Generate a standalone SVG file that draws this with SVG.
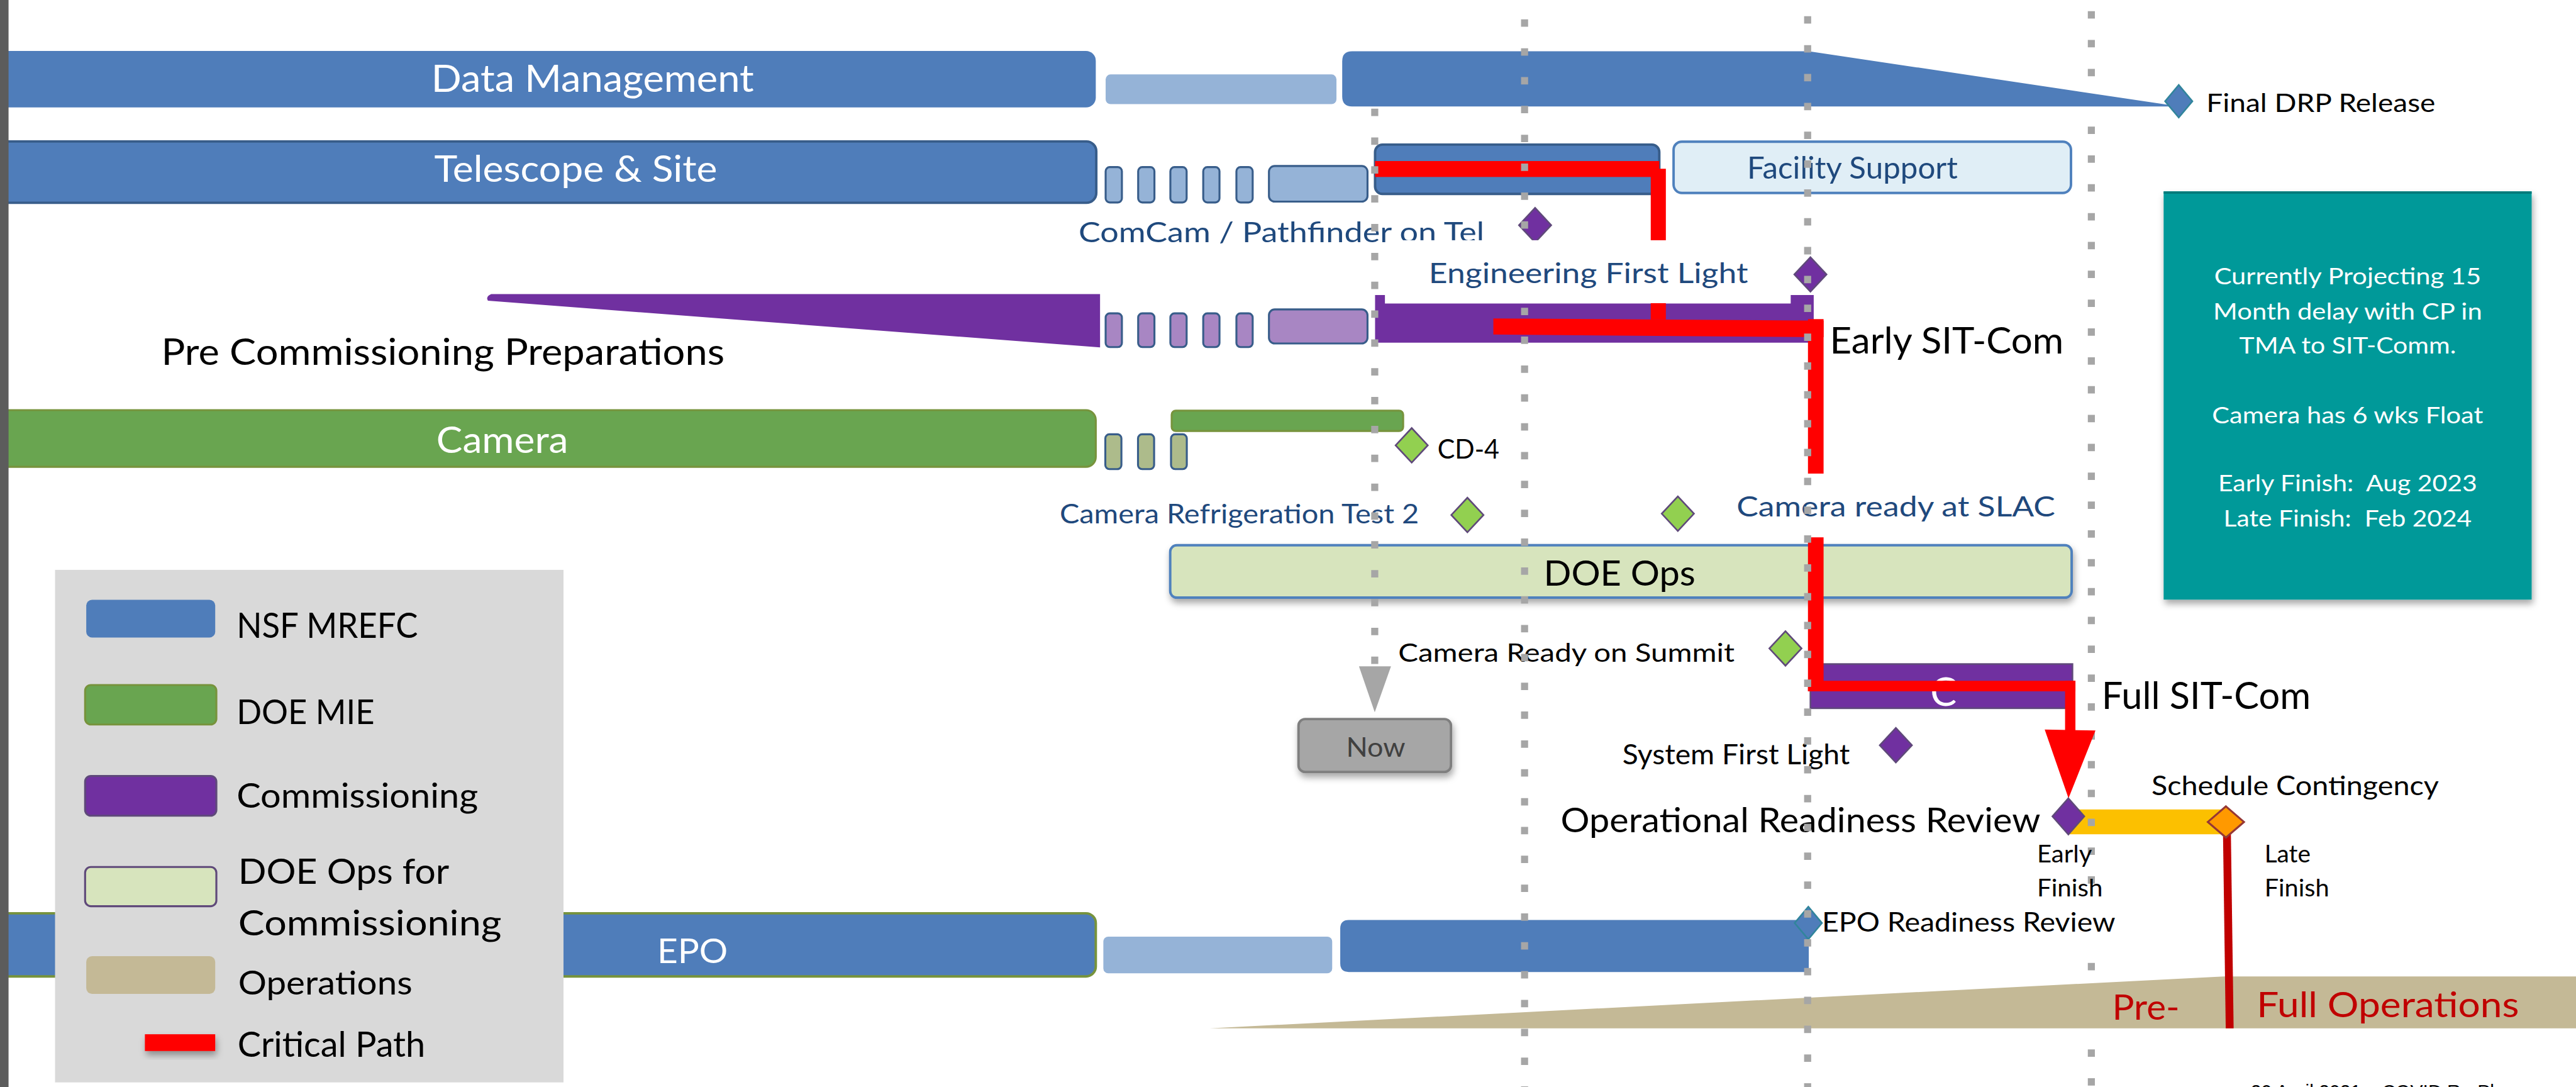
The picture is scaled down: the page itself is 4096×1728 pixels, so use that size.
<svg xmlns="http://www.w3.org/2000/svg" width="4096" height="1728" viewBox="0 0 4096 1728">
<defs>
<style>
  text { font-family: Lato, 'Open Sans', 'Noto Sans', sans-serif; }
  .foot { font-family: 'Liberation Sans', Arial, sans-serif; }
  .w { fill: #ffffff; } .k { fill: #000000; } .db { fill: #1f497d; } .dr { fill: #c00000; } .g4 { fill: #404040; }
  .nsf { fill: #4f7dba; }
  .nsf-lt { fill: #95b3d7; }
  .doe { fill: #69a550; stroke: #77933c; stroke-width: 1.2; }
  .com { fill: #7030a0; }
  .com-lt { fill: #a886c3; }
  .cam-lt { fill: #adbb8b; }
  .tick { stroke: #385d8a; stroke-width: 1.2; }
  .edge { stroke: #385d8a; stroke-width: 1.5; }
  .grid { fill: none; stroke: #a6a6a6; stroke-width: 4.3; stroke-dasharray: 4.5 13.05; }
  .crit { fill: #ff0000; }
  .ms-com { fill: #7030a0; stroke: #5f497a; stroke-width: 1; }
  .ms-doe { fill: #92d050; stroke: #5f497a; stroke-width: 1; }
  .ms-nsf { fill: #4f7dba; stroke: #31859c; stroke-width: 1; }
  .ms-late { fill: #ff9900; stroke: #953735; stroke-width: 1.2; }
  .mask { fill: #ffffff; }
  .pre { white-space: pre; }
</style>
<filter id="shadow" x="-10%" y="-20%" width="130%" height="170%">
  <feDropShadow dx="0.8" dy="2.5" stdDeviation="2" flood-color="#000000" flood-opacity="0.35"/>
</filter>
<polygon id="diamond" points="0,-10.5 9.8,0 0,10.5 -9.8,0"/>
<polygon id="diamond-sm" points="0,-9.9 8.3,0 0,9.9 -8.3,0"/>
</defs>

<rect width="4096" height="1728" fill="#ffffff"/>

<g transform="scale(2.612245)">

  <!-- schedule contingency band (under the late gridline) -->
  <g id="schedule-contingency">
    <rect x="1258.7" y="492.6" width="96.2" height="15.1" fill="#fcc000"/>
  </g>

  <!-- gridline that sits beneath the operations wedge -->
  <g id="grid-back">
    <line class="grid" x1="1273" y1="6.8" x2="1273" y2="668"/>
  </g>

  <!-- operations wedge -->
  <g id="operations">
    <polygon points="736.3,625.8 1353.7,594.2 1580,594.2 1580,625.8" fill="#c4b996"/>
    <text class="dr" x="1285.7" y="620.4" font-size="21.4" textLength="41" lengthAdjust="spacingAndGlyphs">Pre-</text>
    <text class="dr" x="1373.6" y="619" font-size="21.4" textLength="159.7" lengthAdjust="spacingAndGlyphs">Full Operations</text>
  </g>

  <!-- Data Management row -->
  <g id="row-data-management">
    <rect x="-10" y="31" width="677" height="34.4" rx="6" class="nsf"/>
    <rect x="673" y="45.3" width="140.5" height="18.1" rx="3" class="nsf-lt"/>
    <path class="nsf" d="M823,31.2 H1101 L1324,64.4 V64.8 H823 Q817,64.8 817,58.8 V37.2 Q817,31.2 823,31.2 Z"/>
    <text class="w" x="262.5" y="55.9" font-size="23.3" textLength="196.4" lengthAdjust="spacingAndGlyphs">Data Management</text>
  </g>

  <!-- Telescope & Site row -->
  <g id="row-telescope-site">
    <rect x="-10" y="86.1" width="677.3" height="37.3" rx="6" class="nsf edge"/>
    <rect x="673" y="101.7" width="9.9" height="21.5" rx="2.5" class="nsf-lt tick"/>
    <rect x="692.8" y="101.7" width="9.9" height="21.5" rx="2.5" class="nsf-lt tick"/>
    <rect x="712.4" y="101.7" width="9.9" height="21.5" rx="2.5" class="nsf-lt tick"/>
    <rect x="732.4" y="101.7" width="9.9" height="21.5" rx="2.5" class="nsf-lt tick"/>
    <rect x="752.6" y="101.7" width="9.9" height="21.5" rx="2.5" class="nsf-lt tick"/>
    <rect x="772.4" y="101" width="60" height="21.7" rx="3.5" class="nsf-lt tick"/>
    <rect x="837" y="88" width="173" height="30" rx="4.5" class="nsf edge"/>
    <text class="w" x="264.3" y="110.6" font-size="22.2" textLength="172.3" lengthAdjust="spacingAndGlyphs">Telescope &amp; Site</text>
  </g>

  <g id="facility-support">
    <rect x="1018.7" y="86.2" width="241.9" height="31.2" rx="5" fill="#e0eef6" stroke="#4f81bd" stroke-width="1.5"/>
    <text class="db" x="1063.5" y="108.6" font-size="18.7" textLength="128.2" lengthAdjust="spacingAndGlyphs">Facility Support</text>
  </g>

  <!-- Pre-commissioning row -->
  <g id="row-precommissioning">
    <path class="com" d="M299,179 H669.6 V211.4 L297,183 Q295.5,180.5 299,179 Z"/>
    <rect x="673" y="190.7" width="9.9" height="20.5" rx="2.5" class="com-lt tick"/>
    <rect x="692.8" y="190.7" width="9.9" height="20.5" rx="2.5" class="com-lt tick"/>
    <rect x="712.4" y="190.7" width="9.9" height="20.5" rx="2.5" class="com-lt tick"/>
    <rect x="732.4" y="190.7" width="9.9" height="20.5" rx="2.5" class="com-lt tick"/>
    <rect x="752.6" y="190.7" width="9.9" height="20.5" rx="2.5" class="com-lt tick"/>
    <rect x="772.4" y="188.3" width="60" height="20.7" rx="3.5" class="com-lt tick"/>
    <path class="com" d="M837,179.5 H843 V184.7 H1090 V179.5 H1104 V208.5 H837 Z"/>
    <text class="k" x="98.2" y="221.9" font-size="21.9" textLength="342.8" lengthAdjust="spacingAndGlyphs">Pre Commissioning Preparations</text>
  </g>

  <!-- Camera row -->
  <g id="row-camera">
    <rect x="-10" y="249.6" width="677" height="34.5" rx="6" class="doe"/>
    <rect x="672.8" y="264.3" width="9.8" height="21.2" rx="2.5" class="cam-lt tick"/>
    <rect x="692.7" y="264.3" width="9.8" height="21.2" rx="2.5" class="cam-lt tick"/>
    <rect x="712.8" y="264.3" width="9.6" height="21.2" rx="2.5" class="cam-lt tick"/>
    <rect x="713.2" y="249.9" width="140.9" height="12.4" rx="2.5" class="doe"/>
    <text class="w" x="265.6" y="275.5" font-size="21.9" textLength="80.3" lengthAdjust="spacingAndGlyphs">Camera</text>
  </g>

  <!-- EPO row -->
  <g id="row-epo">
    <rect x="-10" y="555.8" width="677" height="38.4" rx="6" class="nsf" stroke="#77933c" stroke-width="1.5"/>
    <rect x="671.6" y="570" width="139.3" height="22.3" rx="3" class="nsf-lt"/>
    <path class="nsf" d="M821,559.9 H1101 V591.5 H821 Q815.8,591.5 815.8,586.3 V565.1 Q815.8,559.9 821,559.9 Z"/>
    <text class="w" x="400" y="586" font-size="21" textLength="43" lengthAdjust="spacingAndGlyphs">EPO</text>
  </g>

  <!-- Legend -->
  <g id="legend">
    <rect x="33.5" y="346.8" width="309.5" height="311.9" fill="#d9d9d9"/>
    <rect x="52.5" y="365" width="78.5" height="23" rx="3.5" class="nsf"/>
    <rect x="51.8" y="416.9" width="79.9" height="24" rx="3.5" class="doe"/>
    <rect x="51.8" y="472.2" width="79.9" height="24.2" rx="3.5" class="com" stroke="#5f497a" stroke-width="1.2"/>
    <rect x="51.8" y="527.6" width="79.9" height="23.9" rx="3.5" fill="#d7e4bd" stroke="#5f497a" stroke-width="1.2"/>
    <rect x="52.5" y="581.9" width="78.5" height="22.9" rx="3.5" fill="#c4b996"/>
    <rect x="88.2" y="629.4" width="42.8" height="10.2" class="crit" filter="url(#shadow)"/>
    <text class="k" x="144" y="388.2" font-size="21.4" textLength="110.4" lengthAdjust="spacingAndGlyphs">NSF MREFC</text>
    <text class="k" x="144" y="440.5" font-size="20.7" textLength="84" lengthAdjust="spacingAndGlyphs">DOE MIE</text>
    <text class="k" x="144" y="491.7" font-size="20.5" textLength="147" lengthAdjust="spacingAndGlyphs">Commissioning</text>
    <text class="k" x="145" y="537.8" font-size="21.4" textLength="128.4" lengthAdjust="spacingAndGlyphs">DOE Ops for</text>
    <text class="k" x="145" y="569.2" font-size="21.8" textLength="160.3" lengthAdjust="spacingAndGlyphs">Commissioning</text>
    <text class="k" x="145" y="605.4" font-size="20" textLength="106" lengthAdjust="spacingAndGlyphs">Operations</text>
    <text class="k" x="144.6" y="643.3" font-size="21.4" textLength="114.3" lengthAdjust="spacingAndGlyphs">Critical Path</text>
  </g>

  <!-- status note -->
  <g id="status-note">
    <rect x="1317" y="116.5" width="224" height="248.4" fill="#009999" filter="url(#shadow)"/>
    <line x1="1317" y1="117.2" x2="1541" y2="117.2" stroke="#007a7a" stroke-width="1.5"/>
    <g class="w" font-size="14" text-anchor="middle">
      <text x="1429" y="172.9" textLength="162.5" lengthAdjust="spacingAndGlyphs">Currently Projecting 15</text>
      <text x="1429" y="194.4" textLength="163.7" lengthAdjust="spacingAndGlyphs">Month delay with CP in</text>
      <text x="1429" y="215.3" textLength="132" lengthAdjust="spacingAndGlyphs">TMA to SIT-Comm.</text>
      <text x="1429" y="257.7" textLength="165" lengthAdjust="spacingAndGlyphs">Camera has 6 wks Float</text>
      <text class="pre" x="1429" y="299" textLength="157.7" lengthAdjust="spacingAndGlyphs">Early Finish:  Aug 2023</text>
      <text class="pre" x="1429" y="320.4" textLength="151.1" lengthAdjust="spacingAndGlyphs">Late Finish:  Feb 2024</text>
    </g>
  </g>

  <!-- DOE operations support -->
  <g id="doe-ops">
    <rect x="712.3" y="331.8" width="548.7" height="31.9" rx="4" fill="#d7e4bd" stroke="#4f81bd" stroke-width="1.5" filter="url(#shadow)"/>
    <text class="k" x="939.6" y="356.5" font-size="21.8" textLength="92.4" lengthAdjust="spacingAndGlyphs">DOE Ops</text>
  </g>

  <!-- Full SIT-Com bar -->
  <g id="full-sit-com">
    <rect x="1102" y="404.1" width="159.5" height="26.9" class="com" stroke="#5f497a" stroke-width="1"/>
    <text class="w" x="1183" y="429.5" font-size="24" text-anchor="middle">C</text>
    <text class="k" x="1279.3" y="431.6" font-size="23.3" textLength="127.2" lengthAdjust="spacingAndGlyphs">Full SIT-Com</text>
  </g>

  <!-- Connectors: critical path and late-finish drop line -->
  <g id="connectors">
    <g id="critical-path" class="crit">
      <rect x="837" y="98" width="173" height="9.7"/>
      <rect x="1004.8" y="102.7" width="9.2" height="91.7"/>
      <polygon points="909,193.8 1110,195.1 1110,205.2 909,203.6"/>
      <rect x="1100.5" y="194.2" width="9.5" height="226.5"/>
      <rect x="1100.5" y="414.3" width="162.8" height="6.4"/>
      <rect x="1257" y="414.3" width="6.3" height="30.5"/>
      <polygon points="1244.6,444 1275.5,444.5 1259.1,485.8"/>
    </g>
    <line id="late-finish-drop" x1="1355.5" y1="505" x2="1357.2" y2="625.8" stroke="#c00000" stroke-width="4.8"/>
  </g>

  <!-- Milestones -->
  <g id="ms-comcam"><use href="#diamond" class="ms-com" transform="translate(934.4,137)"/></g>
  <g id="ms-cd4"><use href="#diamond" class="ms-doe" transform="translate(859.3,271)"/></g>
  <g id="ms-refrigeration"><use href="#diamond" class="ms-doe" transform="translate(893.2,313.4)"/></g>
  <g id="ms-camera-slac"><use href="#diamond" class="ms-doe" transform="translate(1021.3,312.6)"/></g>
  <g id="ms-camera-summit"><use href="#diamond" class="ms-doe" transform="translate(1086.8,394.6)"/></g>
  <g id="ms-system-first-light"><use href="#diamond" class="ms-com" transform="translate(1154,453.5)"/></g>
  <g id="ms-orr"><polygon class="ms-com" points="1259,485.8 1268.7,496.8 1259,507.8 1249.3,496.8"/></g>
  <g id="ms-late-finish"><polygon class="ms-late" points="1354.9,490.7 1365.9,500.2 1354.9,509.7 1343.9,500.2"/></g>
  <g id="ms-final-drp"><use href="#diamond-sm" class="ms-nsf" transform="translate(1326.2,61.6)"/></g>
  <g id="ms-eng-first-light"><use href="#diamond" class="ms-com" transform="translate(1102,167)"/></g>
  <g id="ms-epo-readiness"><use href="#diamond-sm" class="ms-nsf" transform="translate(1100.7,561.7)"/></g>

  <!-- Lower-layer labels -->
  <g id="labels">
    <text class="db" x="656.5" y="147.4" font-size="17.3" textLength="247" lengthAdjust="spacingAndGlyphs">ComCam / Pathfinder on Tel</text>
    <text class="k" x="1343" y="68.1" font-size="15.9" textLength="139.4" lengthAdjust="spacingAndGlyphs">Final DRP Release</text>
    <text class="k" x="1113.8" y="215.3" font-size="22.6" textLength="142.3" lengthAdjust="spacingAndGlyphs">Early SIT-Com</text>
    <text class="k" x="875" y="279.1" font-size="16.2" textLength="37.6" lengthAdjust="spacingAndGlyphs">CD-4</text>
    <text class="db" x="645" y="318.5" font-size="16" textLength="218.7" lengthAdjust="spacingAndGlyphs">Camera Refrigeration Test 2</text>
    <text class="k" x="851.1" y="402.8" font-size="15.6" textLength="204.7" lengthAdjust="spacingAndGlyphs">Camera Ready on Summit</text>
    <text class="k" x="987.6" y="465" font-size="16.7" textLength="138.4" lengthAdjust="spacingAndGlyphs">System First Light</text>
    <text class="k" x="950" y="506.5" font-size="21" textLength="292" lengthAdjust="spacingAndGlyphs">Operational Readiness Review</text>
    <text class="k" x="1309.6" y="484" font-size="16.3" textLength="174.9" lengthAdjust="spacingAndGlyphs">Schedule Contingency</text>
    <text class="k" x="1239.9" y="525" font-size="14.5" textLength="33.5" lengthAdjust="spacingAndGlyphs">Early</text>
    <text class="k" x="1239.9" y="545.4" font-size="14.5" textLength="40" lengthAdjust="spacingAndGlyphs">Finish</text>
    <text class="k" x="1378.4" y="525" font-size="14.5" textLength="28" lengthAdjust="spacingAndGlyphs">Late</text>
    <text class="k" x="1378.4" y="545.4" font-size="14.5" textLength="39.4" lengthAdjust="spacingAndGlyphs">Finish</text>
    <text class="foot" x="1370" y="668" font-size="11.5" fill="#000000">20 April 2021 – COVID Re-Plan</text>
  </g>

  <!-- mid gridline and the "Now" pointer -->
  <g id="grid-mid">
    <line class="grid" x1="928" y1="11.8" x2="928" y2="668"/>
  </g>
  <g id="now-pointer">
    <line class="grid" x1="836.8" y1="66.1" x2="836.8" y2="405"/>
    <polygon points="827.2,405.5 846.7,405.5 836.8,433.4" fill="#a6a6a6"/>
  </g>
  <g id="now">
    <rect x="790.4" y="437.6" width="92.8" height="32.2" rx="4" fill="#a6a6a6" stroke="#7f7f7f" stroke-width="1.5" filter="url(#shadow)"/>
    <text class="g4" x="819.4" y="460.5" font-size="16.5" textLength="36" lengthAdjust="spacingAndGlyphs">Now</text>
  </g>

  <!-- labels with opaque text boxes -->
  <g id="label-eng-first-light">
    <rect class="mask" x="850" y="146.2" width="230" height="38.3"/>
    <text class="db" x="869.7" y="172.3" font-size="16.9" textLength="194.3" lengthAdjust="spacingAndGlyphs">Engineering First Light</text>
  </g>
  <g id="label-camera-slac">
    <rect class="mask" x="1050" y="288.2" width="208" height="38.8"/>
    <text class="db" x="1057" y="314.2" font-size="17" textLength="194" lengthAdjust="spacingAndGlyphs">Camera ready at SLAC</text>
  </g>
  <g id="label-epo-readiness">
    <rect class="mask" x="1110" y="548.5" width="180" height="27"/>
    <text class="k" x="1109" y="566.8" font-size="16.5" textLength="178.6" lengthAdjust="spacingAndGlyphs">EPO Readiness Review</text>
  </g>

  <!-- front gridline -->
  <g id="grid-front">
    <line class="grid" x1="1100.3" y1="9.9" x2="1100.3" y2="668"/>
  </g>

  <!-- page edge strip -->
  <rect x="0" y="0" width="5.2" height="665" fill="#5c5c5c"/>
</g>
</svg>
